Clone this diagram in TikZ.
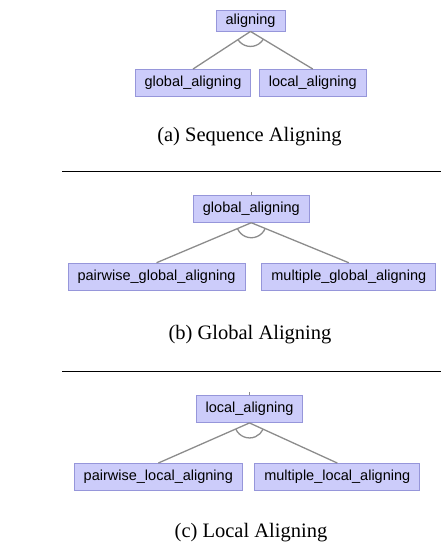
\documentclass[tikz,border=0pt]{standalone}
\usepackage{fontspec}
\setmainfont{Liberation Serif}
\newfontfamily\boxfont{Liberation Sans}
\usetikzlibrary{calc}

\definecolor{boxfill}{RGB}{204,204,250}
\definecolor{boxline}{RGB}{150,150,218}
\definecolor{treeline}{RGB}{140,140,140}

\tikzset{
	feature/.style={draw=boxline, fill=boxfill, line width=0.9pt, text=black,
		font=\boxfont\fontsize{14.5}{17}\selectfont, inner xsep=9.5pt, inner ysep=2pt,
		minimum height=27pt},
	subline/.style={draw=treeline, line width=1.3pt},
	caption/.style={font=\fontsize{20.5}{24}\selectfont, inner sep=0pt},
	rule/.style={draw=black, line width=1.2pt}
}

% and-arc below a parent: from the left child line round to the right child line
\def\andarc(#1)(#2)(#3){\draw[subline] let \p1=($(#2.north)-(#1.south)$), \p2=($(#3.north)-(#1.south)$),
	\n1={atan2(\y1,\x1)}, \n2={atan2(\y2,\x2)} in
	($(#1.south)+(\n1:15pt)$) arc[start angle=\n1, end angle=\n2, radius=15pt];}

\begin{document}
\begin{tikzpicture}[x=1pt, y=1pt]
			%%%%% START %%%%%
			\useasboundingbox (0, 0) rectangle (441, 545);
			
			% (a) sequence aligning
			\node[feature, minimum height=21pt] (align) at (250.5, 524.5) {aligning};
			\node[feature] (glob) at (193, 462) {global\_aligning};
			\node[feature] (loc) at (312.8, 462) {local\_aligning};
			\draw[subline] (align.south) -- (glob.north);
			\draw[subline] (align.south) -- (loc.north);
			\andarc(align)(glob)(loc)
			\node[caption] (capa) at (249.5, 408) {(a) Sequence Aligning};
			
			\draw[rule] (62, 373.3) -- (441, 373.3);
			
			% (b) global aligning
			\node[feature] (gal) at (251.3, 336.2) {global\_aligning};
			\node[feature] (pga) at (156.5, 268.3) {pairwise\_global\_aligning};
			\node[feature] (mga) at (348.8, 268.3) {multiple\_global\_aligning};
			\coordinate (galtop) at ([yshift=3pt]gal.north);
			\draw[subline] (gal.north) -- (galtop);
			\draw[subline] (gal.south) -- (pga.north);
			\draw[subline] (gal.south) -- (mga.north);
			\andarc(gal)(pga)(mga)
			\node[caption] (capb) at (250, 210) {(b) Global Aligning};
			
			\draw[rule] (62, 173.3) -- (441, 173.3);
			
			% (c) local aligning
			\node[feature] (lal) at (249.5, 136) {local\_aligning};
			\node[feature] (pla) at (158.3, 68) {pairwise\_local\_aligning};
			\node[feature] (mla) at (337.3, 68) {multiple\_local\_aligning};
			\coordinate (laltop) at ([yshift=3pt]lal.north);
			\draw[subline] (lal.north) -- (laltop);
			\draw[subline] (lal.south) -- (pla.north);
			\draw[subline] (lal.south) -- (mla.north);
			\andarc(lal)(pla)(mla)
			\node[caption] (capc) at (251, 12) {(c) Local Aligning};
			%%%%% END %%%%%
\end{tikzpicture}
\end{document}
